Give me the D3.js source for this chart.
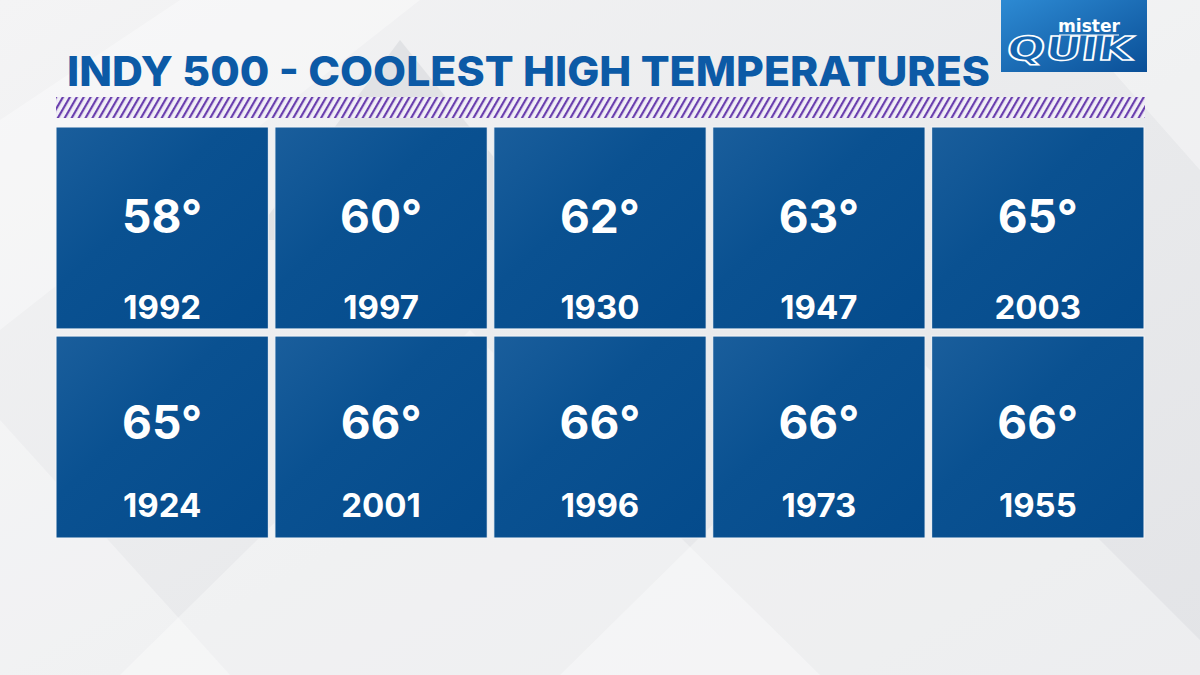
<!DOCTYPE html>
<html>
<head>
<meta charset="utf-8">
<script src="https://cdn.jsdelivr.net/npm/d3@7"></script>
<style>
  html, body { margin: 0; padding: 0; background: #e6e7ea; }
  svg { display: block; }
</style>
</head>
<body>
<svg id="chart" width="1200" height="675"></svg>
<script>
const title = "INDY 500 - COOLEST HIGH TEMPERATURES";
const temps = [58, 60, 62, 63, 65, 65, 66, 66, 66, 66];
const years = ["1992", "1997", "1930", "1947", "2003", "1924", "2001", "1996", "1973", "1955"];
const columns = [0, 1, 2, 3, 4];
const rows = [0, 1];

const width = 1200, height = 675;
// text baselines inside a tile, per row (the graphic isn't perfectly even)
const tempBase = [106, 103];
const yearBase = [192, 181];

const svg = d3.select("#chart");
const defs = svg.append("defs");

// background
const bg = defs.append("linearGradient").attr("id", "bg")
  .attr("x1", 0).attr("y1", 0).attr("x2", 1).attr("y2", 1);
bg.append("stop").attr("offset", "0%").attr("stop-color", "#f4f4f5");
bg.append("stop").attr("offset", "55%").attr("stop-color", "#e9eaec");
bg.append("stop").attr("offset", "100%").attr("stop-color", "#e3e4e7");
svg.append("rect").attr("width", width).attr("height", height).attr("fill", "url(#bg)");

// faint diamond shapes behind everything
const shapes = [
  [[0, 120], [180, 0], [420, 0], [0, 330]],
  [[120, 675], [470, 330], [820, 675]],
  [[560, 675], [900, 340], [1200, 640], [1200, 675]],
  [[1050, 0], [1200, 0], [1200, 170]],
  [[0, 420], [230, 675], [0, 675]]
];
svg.append("g").selectAll("polygon").data(shapes).enter().append("polygon")
  .attr("points", d => d.map(p => p.join(",")).join(" "))
  .attr("fill", "#ffffff").attr("opacity", 0.35);
svg.append("polygon")
  .attr("points", "250,240 400,40 560,240")
  .attr("fill", "#d6d7db").attr("opacity", 0.55);

// title
svg.append("text")
  .attr("x", 67).attr("y", 86)
  .attr("textLength", 923).attr("lengthAdjust", "spacingAndGlyphs")
  .style("font-family", "Inter, 'Open Sans', sans-serif")
  .style("font-weight", 800).style("font-size", "41px")
  .attr("fill", "#0c5aa6")
  .text(title);

// hatched stripe
const hatch = defs.append("pattern").attr("id", "hatch")
  .attr("patternUnits", "userSpaceOnUse")
  .attr("width", 6).attr("height", 30)
  .attr("patternTransform", "rotate(30)");
hatch.append("rect").attr("width", 6).attr("height", 30).attr("fill", "#f1eff6");
hatch.append("rect").attr("width", 2.2).attr("height", 30).attr("fill", "#6a3fae");
svg.append("rect")
  .attr("x", 56).attr("y", 97).attr("width", 1089).attr("height", 21)
  .attr("fill", "url(#hatch)");

// tiles
const x = d3.scaleBand().domain(columns).range([56, 1144]).paddingInner(0.03);
const y = d3.scaleBand().domain(rows).range([127, 538]).paddingInner(0.034);

const tileGrad = defs.append("linearGradient").attr("id", "tile")
  .attr("x1", 0).attr("y1", 0).attr("x2", 1).attr("y2", 1);
tileGrad.append("stop").attr("offset", "0%").attr("stop-color", "#1a5e9c");
tileGrad.append("stop").attr("offset", "40%").attr("stop-color", "#0a5191");
tileGrad.append("stop").attr("offset", "100%").attr("stop-color", "#044b8c");

const tiles = svg.append("g").selectAll("g.tile")
  .data(temps.map((t, i) => ({ temp: t, year: years[i], col: i % 5, row: Math.floor(i / 5) })))
  .enter().append("g")
  .attr("class", "tile")
  .attr("transform", d => `translate(${x(d.col)},${y(d.row)})`);

tiles.append("rect")
  .attr("width", x.bandwidth()).attr("height", y.bandwidth())
  .attr("fill", "url(#tile)")
  .attr("stroke", "#f5f6f8").attr("stroke-width", 1);

tiles.append("text")
  .attr("x", x.bandwidth() / 2).attr("y", d => tempBase[d.row])
  .attr("text-anchor", "middle")
  .style("font-family", "Inter, 'Open Sans', sans-serif")
  .style("font-weight", 700).style("font-size", "46px")
  .attr("fill", "#ffffff")
  .text(d => d.temp + "°");

tiles.append("text")
  .attr("x", x.bandwidth() / 2).attr("y", d => yearBase[d.row])
  .attr("text-anchor", "middle")
  .style("font-family", "Inter, 'Open Sans', sans-serif")
  .style("font-weight", 700).style("font-size", "33px")
  .attr("fill", "#ffffff")
  .text(d => d.year);

// logo
const logoGrad = defs.append("linearGradient").attr("id", "logo")
  .attr("x1", 0).attr("y1", 0).attr("x2", 1).attr("y2", 1);
logoGrad.append("stop").attr("offset", "0%").attr("stop-color", "#2d8ad3");
logoGrad.append("stop").attr("offset", "100%").attr("stop-color", "#0a4f97");
const logo = svg.append("g").attr("transform", "translate(1001,0)");
logo.append("rect").attr("width", 146).attr("height", 72).attr("fill", "url(#logo)");
logo.append("text")
  .attr("x", 88).attr("y", 32).attr("text-anchor", "middle")
  .attr("textLength", 62).attr("lengthAdjust", "spacingAndGlyphs")
  .style("font-family", "'DejaVu Sans', sans-serif")
  .style("font-weight", 700).style("font-size", "17px")
  .attr("fill", "#ffffff")
  .text("mister");
logo.append("line")
  .attr("x1", 58).attr("x2", 118).attr("y1", 35).attr("y2", 35)
  .attr("stroke", "#ffffff").attr("stroke-width", 1.2);
logo.append("text")
  .attr("x", 76).attr("y", 60).attr("text-anchor", "middle")
  .attr("textLength", 126).attr("lengthAdjust", "spacingAndGlyphs")
  .style("font-family", "'DejaVu Sans', sans-serif")
  .style("font-weight", 700).style("font-size", "33px")
  .attr("fill", "#1463ad").attr("stroke", "#ffffff").attr("stroke-width", 1.5)
  .attr("transform", "skewX(-8)")
  .text("QUIK");
</script>
</body>
</html>
